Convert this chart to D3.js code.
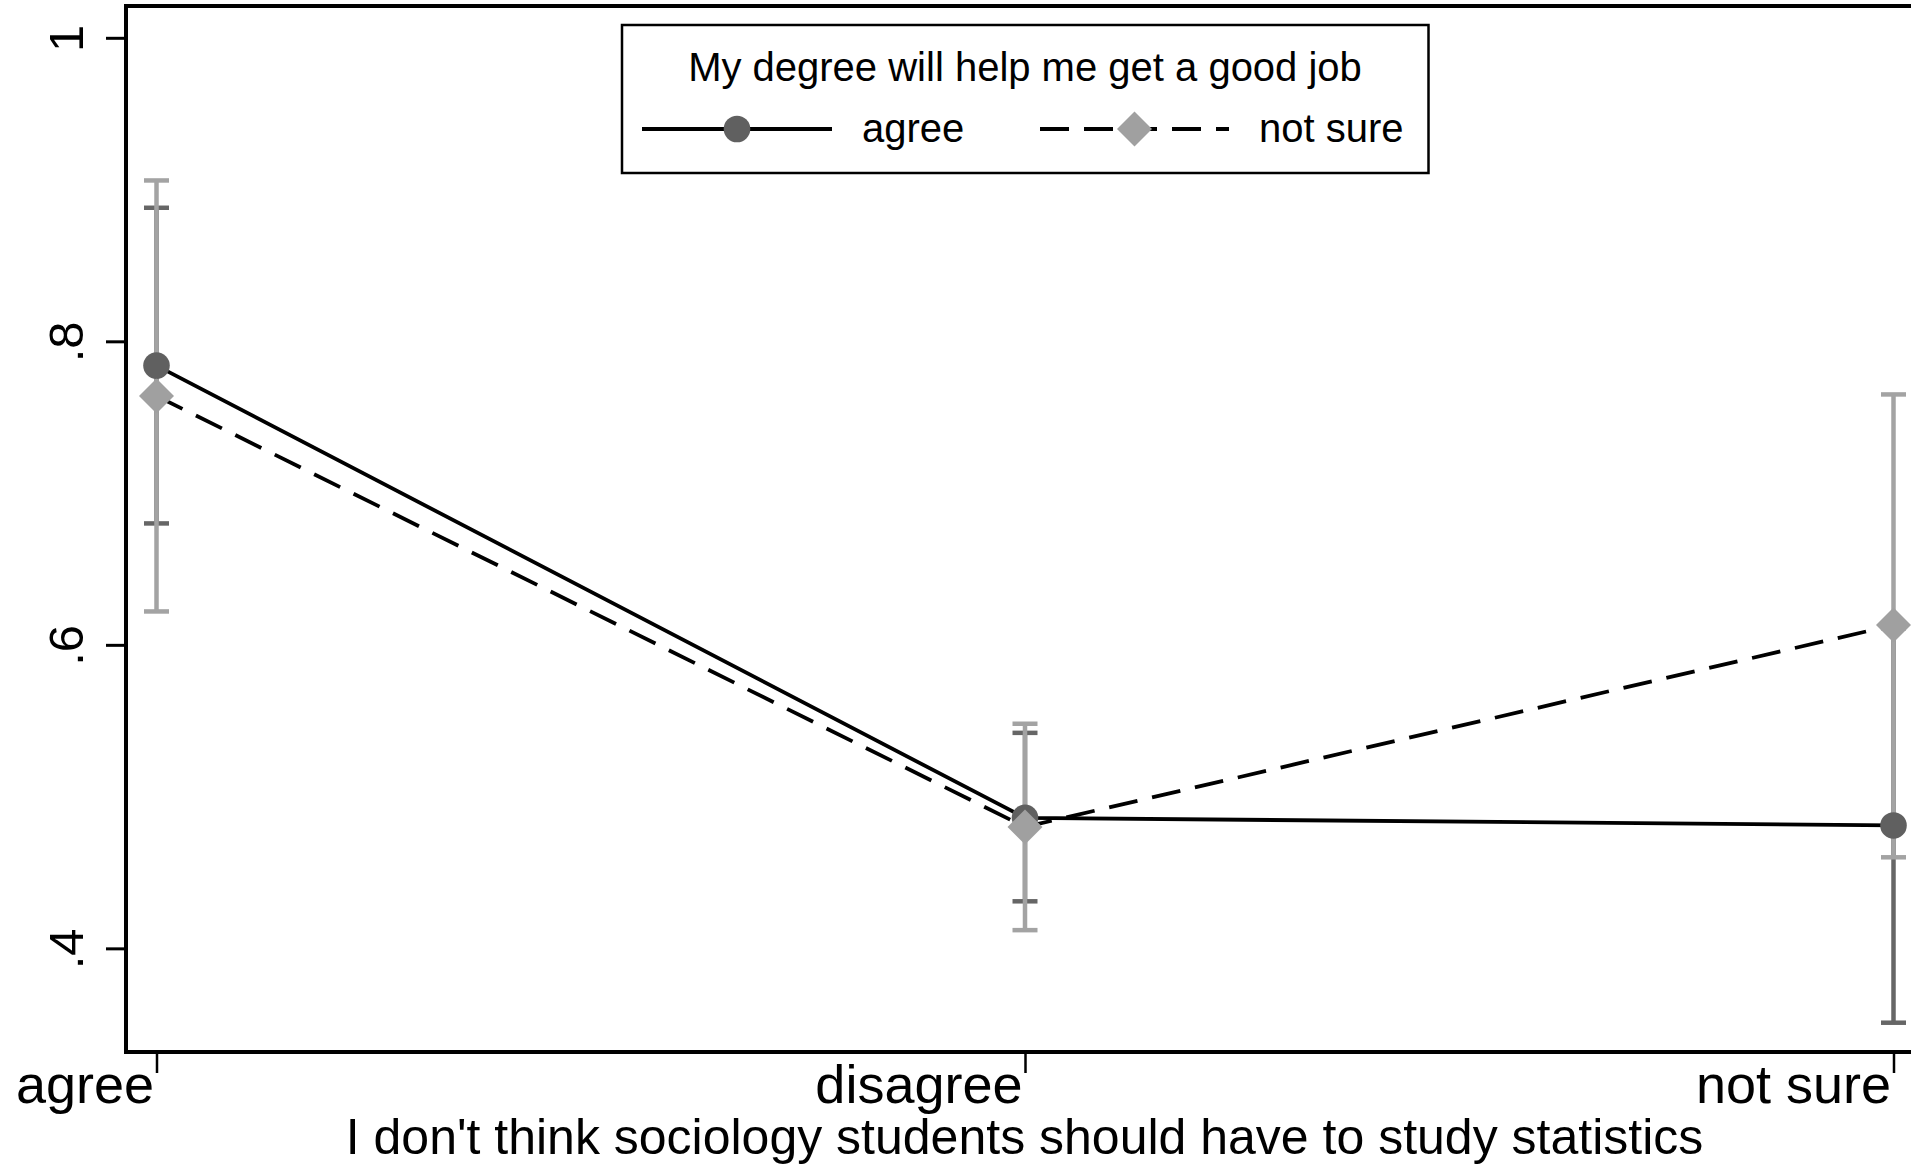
<!DOCTYPE html>
<html>
<head>
<meta charset="utf-8">
<script src="https://cdn.jsdelivr.net/npm/d3@7"></script>
<style>
  html, body { margin: 0; padding: 0; background: #fff; }
  svg { display: block; font-family: "Liberation Sans", Arial, Helvetica, sans-serif; }
</style>
</head>
<body>
<svg id="chart" width="1911" height="1166"></svg>
<script>
// Predicted probabilities with 95% confidence intervals, by response group
const categories = ["agree", "disagree", "not sure"];
const seriesNames = ["agree", "not sure"];

const agreeMean  = [0.784, 0.486, 0.481];
const agreeLower = [0.680, 0.431, 0.351];
const agreeUpper = [0.888, 0.542, 0.611];

const notSureMean  = [0.764, 0.480, 0.613];
const notSureLower = [0.622, 0.412, 0.460];
const notSureUpper = [0.906, 0.548, 0.765];

const yTicks = [0.4, 0.6, 0.8, 1];
const yTickLabels = [".4", ".6", ".8", "1"];

const legendTitle = "My degree will help me get a good job";
const xTitle = "I don't think sociology students should have to study statistics";

const W = 1911, H = 1166;
const frame = { left: 126, top: 6, bottom: 1052, right: W };

const svg = d3.select("#chart");

const x = d3.scalePoint().domain(categories).range([156.5, 1893.5]);
const y = d3.scaleLinear().domain([0.3317, 1.0203]).range([frame.bottom, 7]);

const DARK = "#606060", DARK_CI = "#666666";
const LIGHT = "#a0a0a0", LIGHT_CI = "#a3a3a3";

// plot-region frame (top border, left and bottom axes)
svg.append("line").attr("x1", frame.left - 2).attr("x2", W).attr("y1", frame.top).attr("y2", frame.top)
  .attr("stroke", "#000").attr("stroke-width", 4);
svg.append("line").attr("x1", frame.left).attr("x2", frame.left).attr("y1", frame.top - 2).attr("y2", frame.bottom + 2)
  .attr("stroke", "#000").attr("stroke-width", 4);
svg.append("line").attr("x1", frame.left - 2).attr("x2", W).attr("y1", frame.bottom).attr("y2", frame.bottom)
  .attr("stroke", "#000").attr("stroke-width", 4);

// y axis
const yAxis = svg.append("g").attr("transform", `translate(${frame.left},0)`)
  .call(d3.axisLeft(y).tickValues(yTicks).tickFormat((d, i) => yTickLabels[i]).tickSize(20).tickSizeOuter(0));
yAxis.select(".domain").remove();
yAxis.selectAll(".tick line").attr("stroke", "#000").attr("stroke-width", 3);
yAxis.selectAll(".tick text")
  .attr("transform", "rotate(-90)")
  .attr("x", 0).attr("y", -43).attr("dy", 0)
  .attr("text-anchor", "middle")
  .attr("fill", "#000")
  .style("font-size", "49px")
  .style("font-family", "'Liberation Sans', Arial, sans-serif");

// x axis
const xAxis = svg.append("g").attr("transform", `translate(0,${frame.bottom})`)
  .call(d3.axisBottom(x).tickSize(21).tickSizeOuter(0));
xAxis.select(".domain").remove();
xAxis.selectAll(".tick line").attr("stroke", "#000").attr("stroke-width", 2.5);
xAxis.selectAll(".tick text")
  .attr("x", -3).attr("y", 51).attr("dy", 0)
  .attr("text-anchor", "end")
  .attr("fill", "#000")
  .style("font-size", "54px")
  .style("font-family", "'Liberation Sans', Arial, sans-serif");

// x axis title
svg.append("text")
  .attr("x", 1024.5).attr("y", 1154)
  .attr("text-anchor", "middle")
  .style("font-size", "50px")
  .text(xTitle);

// confidence interval caps
function drawCI(lower, upper, color) {
  const g = svg.append("g").attr("stroke", color).attr("stroke-width", 4.5).attr("fill", "none");
  categories.forEach((c, i) => {
    const cx = x(c);
    g.append("line").attr("x1", cx).attr("x2", cx).attr("y1", y(lower[i])).attr("y2", y(upper[i]));
    g.append("line").attr("x1", cx - 12.5).attr("x2", cx + 12.5).attr("y1", y(lower[i])).attr("y2", y(lower[i]));
    g.append("line").attr("x1", cx - 12.5).attr("x2", cx + 12.5).attr("y1", y(upper[i])).attr("y2", y(upper[i]));
  });
}
drawCI(agreeLower, agreeUpper, DARK_CI);
drawCI(notSureLower, notSureUpper, LIGHT_CI);

const line = d3.line().x((d, i) => x(categories[i])).y(d => y(d));

// "agree" series: solid line with circles
svg.append("path").datum(agreeMean).attr("d", line)
  .attr("fill", "none").attr("stroke", "#000").attr("stroke-width", 3.8);
svg.append("g").selectAll("circle").data(agreeMean).join("circle")
  .attr("cx", (d, i) => x(categories[i])).attr("cy", d => y(d)).attr("r", 13.3)
  .attr("fill", DARK);

// "not sure" series: dashed line with diamonds
svg.append("path").datum(notSureMean).attr("d", line)
  .attr("fill", "none").attr("stroke", "#000").attr("stroke-width", 3.8)
  .attr("stroke-dasharray", "29,15");
const diamond = s => `M0,${-s}L${s},0L0,${s}L${-s},0Z`;
svg.append("g").selectAll("path").data(notSureMean).join("path")
  .attr("transform", (d, i) => `translate(${x(categories[i])},${y(d)})`)
  .attr("d", diamond(17.5))
  .attr("fill", LIGHT);

// legend
const lg = svg.append("g");
lg.append("rect").attr("x", 622).attr("y", 25).attr("width", 806.5).attr("height", 148)
  .attr("fill", "#fff").attr("stroke", "#000").attr("stroke-width", 2.5);
lg.append("text").attr("x", 1025).attr("y", 81).attr("text-anchor", "middle")
  .style("font-size", "40px").text(legendTitle);

const legendItems = [
  { name: seriesNames[0], x0: 642, x1: 832, tx: 862, dash: null, marker: "circle" },
  { name: seriesNames[1], x0: 1040, x1: 1229, tx: 1259, dash: "29,15", marker: "diamond" }
];
legendItems.forEach(it => {
  const ly = 129;
  lg.append("line").attr("x1", it.x0).attr("x2", it.x1).attr("y1", ly).attr("y2", ly)
    .attr("stroke", "#000").attr("stroke-width", 3.8)
    .attr("stroke-dasharray", it.dash);
  const mx = (it.x0 + it.x1) / 2;
  if (it.marker === "circle") {
    lg.append("circle").attr("cx", mx).attr("cy", ly).attr("r", 13.3).attr("fill", DARK);
  } else {
    lg.append("path").attr("transform", `translate(${mx},${ly})`).attr("d", diamond(17.5)).attr("fill", LIGHT);
  }
  lg.append("text").attr("x", it.tx).attr("y", ly + 13).style("font-size", "40px").text(it.name);
});
</script>
</body>
</html>
